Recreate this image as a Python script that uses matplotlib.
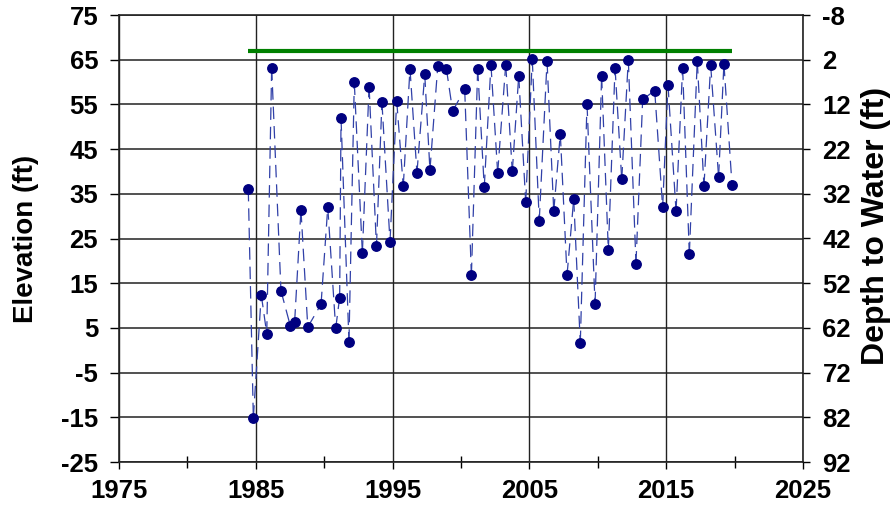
import matplotlib
matplotlib.use("Agg")
import matplotlib.pyplot as plt
import numpy as np

plt.rcParams['font.family'] = ['Liberation Sans', 'DejaVu Sans']
plt.rcParams['font.weight'] = 'bold'
plt.rcParams['lines.scale_dashes'] = False
plt.rcParams['axes.unicode_minus'] = False

# ---- data ----
years = [1984.45, 1984.82, 1985.4, 1985.8, 1986.16, 1986.84, 1987.52, 1987.84, 1988.3, 1988.8,
         1989.77, 1990.26, 1990.84, 1991.13, 1991.23, 1991.81, 1992.2, 1992.79, 1993.28, 1993.82,
         1994.22, 1994.81, 1995.3, 1995.78, 1996.27, 1996.78, 1997.35, 1997.73, 1998.3, 1998.93,
         1999.39, 2000.27, 2000.76, 2001.22, 2001.7, 2002.19, 2002.68, 2003.27, 2003.75, 2004.22,
         2004.73, 2005.21, 2005.72, 2006.29, 2006.78, 2007.26, 2007.75, 2008.24, 2008.72, 2009.21,
         2009.8, 2010.28, 2010.77, 2011.26, 2011.75, 2012.23, 2012.79, 2013.28, 2014.16, 2014.74,
         2015.13, 2015.72, 2016.2, 2016.69, 2017.27, 2017.76, 2018.25, 2018.83, 2019.22, 2019.81]
elevation = [36.1, -15.1, 12.4, 3.7, 63.2, 13.3, 5.5, 6.4, 31.4, 5.2,
             10.3, 32.0, 4.9, 11.8, 51.9, 1.9, 59.9, 21.8, 59.0, 23.3,
             55.5, 24.3, 55.8, 36.7, 63.0, 39.7, 61.7, 40.3, 63.5, 63.0,
             53.5, 58.4, 16.8, 63.0, 36.5, 63.9, 39.7, 63.9, 40.0, 61.4,
             33.2, 65.1, 29.0, 64.7, 31.1, 48.4, 16.8, 33.8, 1.6, 55.2,
             10.3, 61.4, 22.4, 63.2, 38.2, 65.0, 19.4, 56.1, 58.1, 32.0,
             59.4, 31.1, 63.2, 21.5, 64.7, 36.7, 63.8, 38.8, 64.1, 37.0]
ground_years = [1984.4, 2019.8]
ground_elev = [67, 67]

x_major = [1975, 1985, 1995, 2005, 2015, 2025]
x_minor = [1980, 1990, 2000, 2010, 2020]
y_left = [-25, -15, -5, 5, 15, 25, 35, 45, 55, 65, 75]
y_right = [-8, 2, 12, 22, 32, 42, 52, 62, 72, 82, 92]

# ---- figure ----
fig = plt.figure(figsize=(8.94, 5.11), dpi=100)
ax = fig.add_axes([119/894, 1 - 462/511, (803-119)/894, (462-15)/511])
ax.set_xlim(1975, 2025)
ax.set_ylim(-25, 75)

for y in y_left:
    ax.axhline(y, color='#333333', lw=1.2, zorder=1)
for x in x_major:
    ax.axvline(x, color='#222222', lw=1.0, zorder=1)

# dashed connectors (dash pattern restarts at each segment)
for i in range(len(years) - 1):
    ax.plot(years[i:i+2], elevation[i:i+2], color='#3040A8', lw=0.9,
            ls=(0, (9, 5)), zorder=2, dash_capstyle='butt')
ax.plot(years, elevation, ls='none', marker='o', ms=6.8, color='#000080', zorder=3)
ax.plot(ground_years, ground_elev, color='#008000', lw=3.0, zorder=4, solid_capstyle='butt')

ax.set_xticks(x_major)
ax.set_xticks(x_minor, minor=True)
ax.set_yticks(y_left)
ax.tick_params(axis='x', which='major', direction='out', length=5, width=1, pad=7, labelsize=18.5)
ax.tick_params(axis='x', which='minor', direction='inout', length=9, width=1)
ax.tick_params(axis='y', direction='out', length=6.5, width=1, pad=8.5, labelsize=18.5)
for lab in ax.get_xticklabels() + ax.get_yticklabels():
    lab.set_fontweight('bold')
for s in ['left', 'bottom', 'right', 'top']:
    ax.spines[s].set_linewidth(1.2)
    ax.spines[s].set_color('#222222')
ax.set_ylabel('Elevation (ft)', fontsize=20, fontweight='bold')
ax.yaxis.set_label_coords(-0.117, 0.5)

ax2 = ax.twinx()
ax2.set_ylim(92, -8)
ax2.set_yticks(y_right)
ax2.tick_params(axis='y', direction='out', length=5, width=1, pad=9, labelsize=18.5)
for lab in ax2.get_yticklabels():
    lab.set_fontweight('bold')
for s in ['left', 'bottom', 'right', 'top']:
    ax2.spines[s].set_visible(False)
ax2.set_ylabel('Depth to Water (ft)', fontsize=23, fontweight='bold')
ax2.yaxis.set_label_coords(1.085, 0.528)

fig.savefig('out.png', dpi=100)
